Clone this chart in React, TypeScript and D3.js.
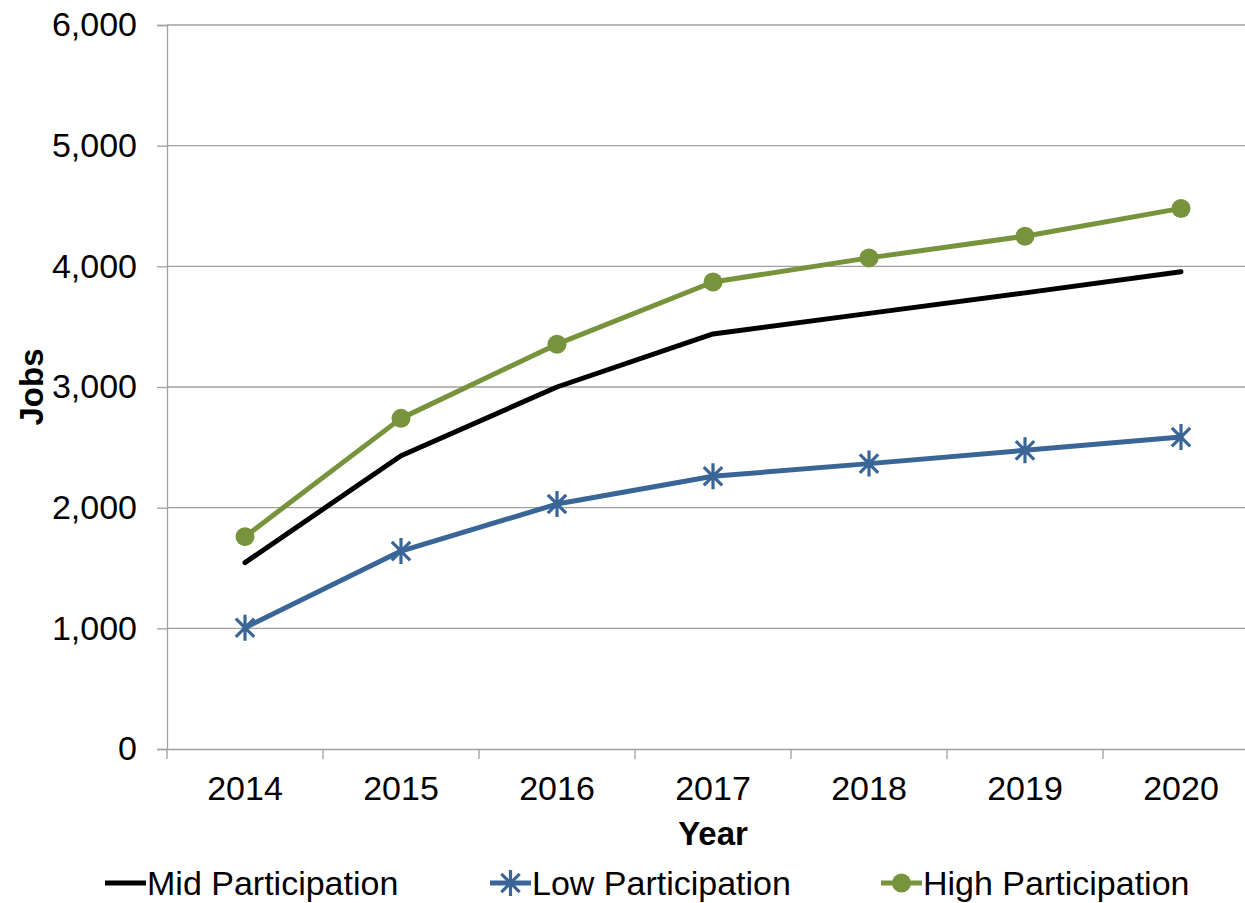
import React, { useEffect, useRef } from 'react';
import * as d3 from 'd3';

const years = ['2014', '2015', '2016', '2017', '2018', '2019', '2020'];
const midValues = [1545, 2430, 3000, 3440, 3610, 3780, 3955];
const lowValues = [1005, 1640, 2030, 2260, 2365, 2475, 2585];
const highValues = [1760, 2740, 3355, 3870, 4070, 4250, 4480];
const yTicks = [0, 1000, 2000, 3000, 4000, 5000, 6000];

const GREEN = '#77933c';
const BLUE = '#3a6597';

const App = () => {
  const svgRef = useRef<SVGSVGElement>(null);

  useEffect(() => {
    const svg = d3.select(svgRef.current);
    svg.selectAll('*').remove();

    const left = 167;
    const top = 25;
    const plotW = 7 * 156;
    const plotH = 724;
    const font = '"Liberation Sans", Arial, sans-serif';

    const x = d3.scaleBand().domain(years).range([left, left + plotW]);
    const y = d3.scaleLinear().domain([0, 6000]).range([top + plotH, top]);
    const cx = (d: string) => (x(d) as number) + x.bandwidth() / 2;

    // gridlines
    svg.append('g')
      .selectAll('line')
      .data(yTicks.filter(t => t > 0))
      .enter()
      .append('line')
      .attr('x1', left)
      .attr('x2', left + plotW)
      .attr('y1', d => y(d))
      .attr('y2', d => y(d))
      .attr('stroke', '#a0a0a0')
      .attr('stroke-width', 1.3);

    // y axis
    const yAxis = svg.append('g')
      .attr('transform', `translate(${left},0)`)
      .call(d3.axisLeft(y).tickValues(yTicks).tickSize(10).tickPadding(20).tickFormat(d3.format(',')));
    yAxis.select('.domain').attr('stroke', '#a0a0a0').attr('stroke-width', 1.3);
    yAxis.selectAll('.tick line').attr('stroke', '#a0a0a0').attr('stroke-width', 1.3);
    yAxis.selectAll('text')
      .attr('fill', '#000')
      .style('font-family', font)
      .style('font-size', '34px');

    // x axis
    const xAxis = svg.append('g')
      .attr('transform', `translate(0,${top + plotH})`)
      .call(d3.axisBottom(x).tickSize(0).tickPadding(27));
    xAxis.select('.domain').attr('stroke', '#a0a0a0').attr('stroke-width', 1.3);
    xAxis.selectAll('text')
      .attr('fill', '#000')
      .style('font-family', font)
      .style('font-size', '34px');

    svg.append('g')
      .selectAll('line')
      .data(d3.range(years.length + 1))
      .enter()
      .append('line')
      .attr('x1', d => left + d * x.step())
      .attr('x2', d => left + d * x.step())
      .attr('y1', top + plotH)
      .attr('y2', top + plotH + 10)
      .attr('stroke', '#a0a0a0')
      .attr('stroke-width', 1.3);

    // axis titles
    svg.append('text')
      .attr('x', 713)
      .attr('y', 845)
      .attr('text-anchor', 'middle')
      .style('font-family', font)
      .style('font-size', '33px')
      .style('font-weight', 'bold')
      .text('Year');

    svg.append('text')
      .attr('transform', `translate(43,387) rotate(-90)`)
      .attr('text-anchor', 'middle')
      .style('font-family', font)
      .style('font-size', '33px')
      .style('font-weight', 'bold')
      .text('Jobs');

    const line = d3.line<number>()
      .x((_, i) => cx(years[i]))
      .y(d => y(d));

    const series = [
      { name: 'Mid Participation', values: midValues, color: '#000000', marker: 'none' },
      { name: 'Low Participation', values: lowValues, color: BLUE, marker: 'star' },
      { name: 'High Participation', values: highValues, color: GREEN, marker: 'circle' },
    ];

    const starPath = (px: number, py: number, r: number) => {
      const a = r * Math.cos(Math.PI / 4);
      return `M${px},${py - r}L${px},${py + r}` +
        `M${px - a},${py - a}L${px + a},${py + a}` +
        `M${px - a},${py + a}L${px + a},${py - a}`;
    };

    const drawMarker = (g: any, marker: string, color: string, px: number, py: number) => {
      if (marker === 'circle') {
        g.append('circle').attr('cx', px).attr('cy', py).attr('r', 9.5).attr('fill', color);
      } else if (marker === 'star') {
        g.append('path').attr('d', starPath(px, py, 13)).attr('stroke', color)
          .attr('stroke-width', 3.2).attr('fill', 'none');
      }
    };

    series.forEach(s => {
      const g = svg.append('g');
      g.append('path')
        .attr('d', line(s.values))
        .attr('fill', 'none')
        .attr('stroke', s.color)
        .attr('stroke-width', 5)
        .attr('stroke-linejoin', 'round')
        .attr('stroke-linecap', 'round');
      s.values.forEach((v, i) => drawMarker(g, s.marker, s.color, cx(years[i]), y(v)));
    });

    // legend
    const legendX = [105, 490, 881];
    series.forEach((s, i) => {
      const g = svg.append('g').attr('transform', `translate(${legendX[i]},883)`);
      g.append('line')
        .attr('x1', 0).attr('x2', 41).attr('y1', 0).attr('y2', 0)
        .attr('stroke', s.color).attr('stroke-width', 5);
      drawMarker(g, s.marker, s.color, 20.5, 0);
      g.append('text')
        .attr('x', 42)
        .attr('y', 12)
        .style('font-family', font)
        .style('font-size', '34px')
        .text(s.name);
    });
  }, []);

  return <svg ref={svgRef} width={1245} height={903} style={{ display: 'block', position: 'absolute', left: 0, top: 0, background: '#fff' }}></svg>;
};

export default App;
